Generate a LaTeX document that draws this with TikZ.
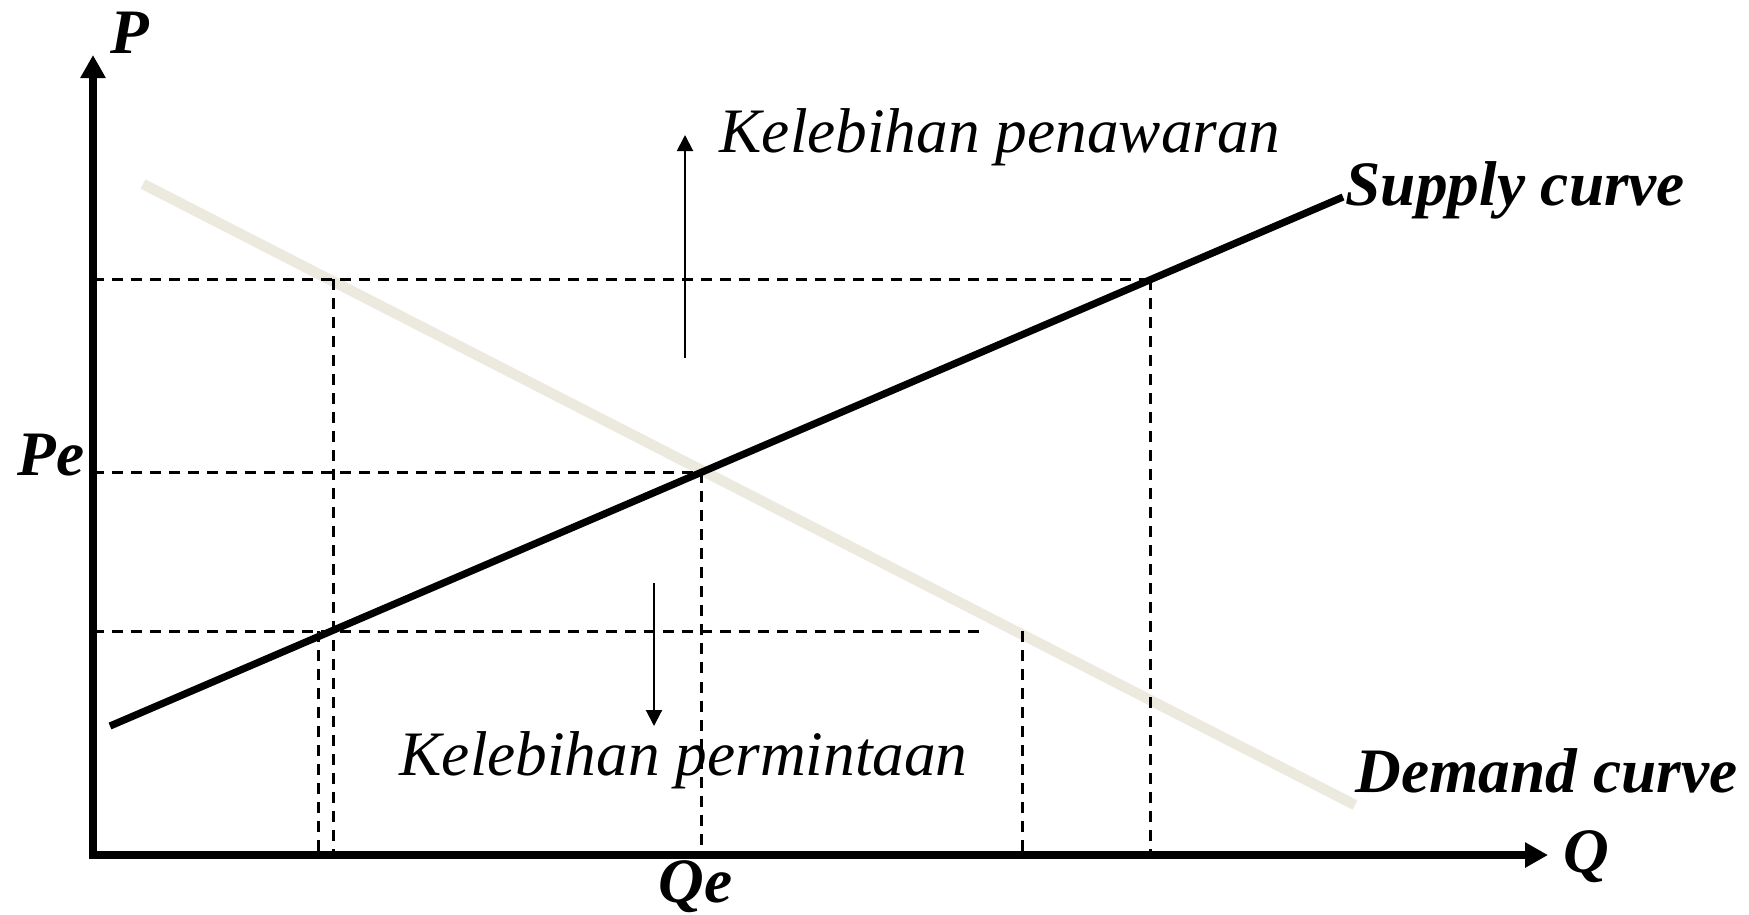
\documentclass[tikz,border=0pt]{standalone}
\usepackage{fontspec}
\setmainfont{Liberation Serif}
\definecolor{demand}{RGB}{236,233,222}
\usetikzlibrary{arrows.meta}

\begin{document}
\begin{tikzpicture}[x=0.01cm, y=-0.01cm,
        axis/.style={line width=0.075cm, -{Triangle[width=0.24cm, length=0.23cm]}},
        guide/.style={line width=0.85pt, dash pattern=on 0.11cm off 0.08cm},
        supplyline/.style={line width=0.072cm},
        demandline/.style={line width=0.105cm, demand},
        arr/.style={line width=0.02cm, -{Triangle[width=0.16cm, length=0.16cm]}},
        lbl/.style={inner sep=0pt, anchor=base west, font=\fontsize{18}{22}\selectfont\itshape},
        tag/.style={lbl, font=\fontsize{18}{22}\selectfont\bfseries\itshape}
    ]
        \useasboundingbox (0,0) rectangle (1749,914);
        \coordinate (O) at (93,855);
        \coordinate (ytop) at (93,55);
        \coordinate (xend) at (1548,855);
        \coordinate (s1) at (110,726);
        \coordinate (s2) at (1343,197);
        \coordinate (d1) at (143,184);
        \coordinate (d2) at (1355,805);
        \coordinate (E) at (701,472);
        \coordinate (Sa) at (1150,279);
        \coordinate (Da) at (333,279);
        \coordinate (Sb) at (318,631);
        \coordinate (Db) at (1022,631);
        \coordinate (Lb) at (982,631);
        \coordinate (up1) at (685,358);
        \coordinate (up2) at (685,135);
        \coordinate (dn1) at (654,583);
        \coordinate (dn2) at (654,726);

        \draw[demandline] (d1) -- (d2);
        \draw[guide] (O |- Sa) -- (Sa);
        \draw[guide] (Da) -- (Da |- O);
        \draw[guide] (Sa) -- (Sa |- O);
        \draw[guide] (O |- E) -- (E) -- (E |- O);
        \draw[guide] (O |- Lb) -- (Lb);
        \draw[guide] (Sb) -- (Sb |- O);
        \draw[guide] (Db) -- (Db |- O);
        \draw[supplyline] (s1) -- (s2);
        \draw[axis] (93,859) -- (ytop);
        \draw[axis] (O) -- (xend);
        \draw[arr] (up1) -- (up2);
        \draw[arr] (dn1) -- (dn2);

        \node[tag] (p) at (110,53) {P};
        \node[tag] (q) at (1563,872) {Q};
        \node[tag] (pe) at (17,475) {Pe};
        \node[tag] (qe) at (658,902) {Qe};
        \node[tag] (sup) at (1345,205) {Supply curve};
        \node[tag] (dem) at (1355,792) {Demand curve};
        \node[lbl] (excs) at (719,152) {Kelebihan penawaran};
        \node[lbl] (excd) at (399,775) {Kelebihan permintaan};
    \end{tikzpicture}
\end{document}
